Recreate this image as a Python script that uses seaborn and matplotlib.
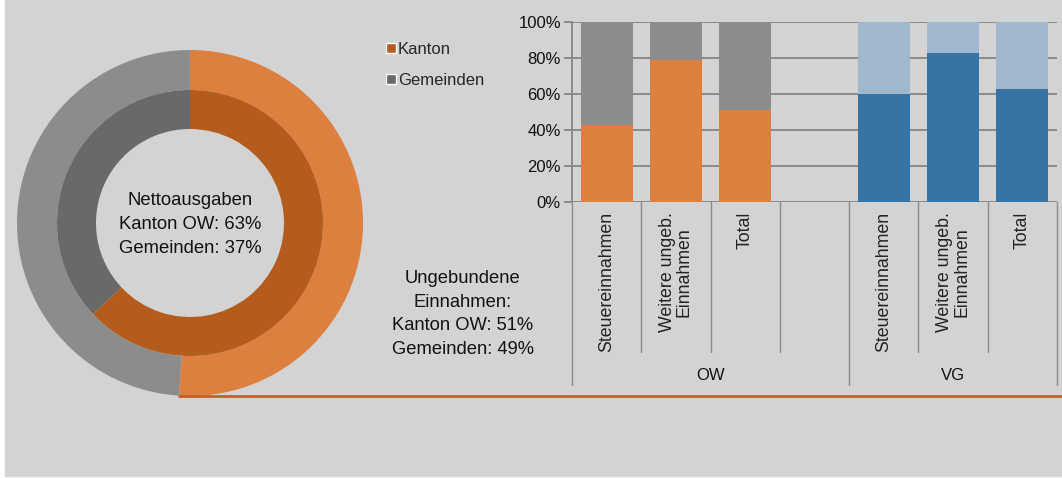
import numpy as np
import pandas as pd
import seaborn as sns
import matplotlib.pyplot as plt
from matplotlib.patches import Patch, Rectangle
from matplotlib.lines import Line2D
from matplotlib.transforms import blended_transform_factory

# data
categories = ["Steuereinnahmen", "Weitere ungeb.\nEinnahmen", "Total"]
groups = ["OW", "VG"]
ow_kanton = [43, 79, 51]
vg_kanton = [60, 83, 63]
netto_shares = [63, 37]        # Kanton OW, Gemeinden
ungebunden_shares = [51, 49]   # Kanton OW, Gemeinden
legend_labels = ["Kanton", "Gemeinden"]

BG = "#d3d3d3"
ORANGE = "#dd7f3e"
DARK_ORANGE = "#b35c1e"
GREY = "#8c8c8c"
DARK_GREY = "#696969"
BLUE = "#3674a6"
LIGHT_BLUE = "#a1b7ce"

sns.set_theme(style="white")
plt.rcParams["font.family"] = ["Liberation Sans", "DejaVu Sans"]

W, H = 1062, 478
fig = plt.figure(figsize=(W / 100, H / 100), dpi=100, facecolor="white")
fig.add_artist(Rectangle((5 / W, 2 / H), 1 - 5 / W, 1 - 2 / H,
                         transform=fig.transFigure, color=BG, zorder=-10))

def px_axes(x0, y0, x1, y1):
    return fig.add_axes([x0 / W, 1 - y1 / H, (x1 - x0) / W, (y1 - y0) / H])

# donut
pax = px_axes(17, 50, 363, 396)
pax.pie(ungebunden_shares, radius=1.0, startangle=90, counterclock=False,
        colors=[ORANGE, GREY], wedgeprops=dict(width=40 / 173, linewidth=0))
pax.pie(netto_shares, radius=133 / 173, startangle=90, counterclock=False,
        colors=[DARK_ORANGE, DARK_GREY], wedgeprops=dict(width=39 / 173, linewidth=0))
pax.set_aspect("equal")
pax.set_xlim(-1, 1)
pax.set_ylim(-1, 1)
pax.axis("off")
pax.text(0, -0.01, f"Nettoausgaben\nKanton OW: {netto_shares[0]}%\nGemeinden: {netto_shares[1]}%",
         ha="center", va="center", fontsize=13.3, linespacing=1.55, color="#111111")

# stacked bars
slots = [f"{g}|{c}" for g in groups for c in categories]
order = slots[:3] + [" "] + slots[3:]
df = pd.DataFrame({
    "slot": slots,
    "group": [g for g in groups for _ in categories],
    "kanton": ow_kanton + vg_kanton,
})
df["total"] = 100

bax = px_axes(572, 22, 1057, 202)
bax.set_facecolor("none")
sns.barplot(data=df, x="slot", y="total", hue="group", order=order,
            palette={"OW": GREY, "VG": LIGHT_BLUE}, dodge=False, width=0.75,
            saturation=1, legend=False, ax=bax, zorder=3, linewidth=0)
sns.barplot(data=df, x="slot", y="kanton", hue="group", order=order,
            palette={"OW": ORANGE, "VG": BLUE}, dodge=False, width=0.75,
            saturation=1, legend=False, ax=bax, zorder=4, linewidth=0)
bax.set_ylim(0, 100)
bax.set_xlim(-0.5, 6.5)
bax.set_yticks(np.arange(0, 101, 20))
bax.set_yticklabels([f"{v}%" for v in range(0, 101, 20)], fontsize=12, color="#111111")
bax.yaxis.grid(True, color="#8a8a8a", linewidth=1.4, zorder=0)
bax.set_axisbelow(True)
bax.tick_params(axis="y", length=6, width=1.4, color="#8a8a8a", left=True, pad=2)
bax.set_xticks(range(7))
bax.set_xticklabels(categories + [""] + categories, rotation=90, va="top",
                    ha="center", fontsize=12.8, color="#222222", linespacing=1.0,
                    multialignment="center")
bax.tick_params(axis="x", length=0, pad=7)
bax.set_xlabel("")
bax.set_ylabel("")
for s in ["top", "right", "bottom"]:
    bax.spines[s].set_visible(False)
bax.spines["left"].set_color("#8a8a8a")
bax.spines["left"].set_linewidth(1.4)

tr = blended_transform_factory(bax.transData, bax.transAxes)
for x in [0.5, 1.5, 2.5, 4.5, 5.5]:
    bax.add_line(Line2D([x, x], [0, -150 / 180], transform=tr, color="#8a8a8a",
                        linewidth=1, clip_on=False))
for x in [-0.5, 3.5, 6.5]:
    bax.add_line(Line2D([x, x], [0, -183 / 180], transform=tr, color="#8a8a8a",
                        linewidth=1, clip_on=False))
bax.text(1.5, -174 / 180, "OW", transform=tr, ha="center", va="center",
         fontsize=12, color="#111111")
bax.text(5.0, -174 / 180, "VG", transform=tr, ha="center", va="center",
         fontsize=12, color="#111111")

# legend for the donut
handles = [Patch(facecolor=DARK_ORANGE), Patch(facecolor=DARK_GREY)]
fig.legend(handles, legend_labels, loc="upper left", bbox_to_anchor=(378 / W, 1 - 34 / H),
           frameon=False, fontsize=12, handlelength=0.55, handleheight=0.55,
           handletextpad=0.15, labelspacing=0.95, borderpad=0)

fig.text(463 / W, 1 - 314 / H,
         f"Ungebundene\nEinnahmen:\nKanton OW: {ungebunden_shares[0]}%\nGemeinden: {ungebunden_shares[1]}%",
         ha="center", va="center", fontsize=13.2, linespacing=1.5, color="#111111")

# orange rule under the chart
fig.add_artist(Line2D([179 / W, 1], [1 - 396 / H, 1 - 396 / H], transform=fig.transFigure,
                      color="#c0622b", linewidth=2))

fig.savefig("out.png", dpi=100, facecolor=fig.get_facecolor())
